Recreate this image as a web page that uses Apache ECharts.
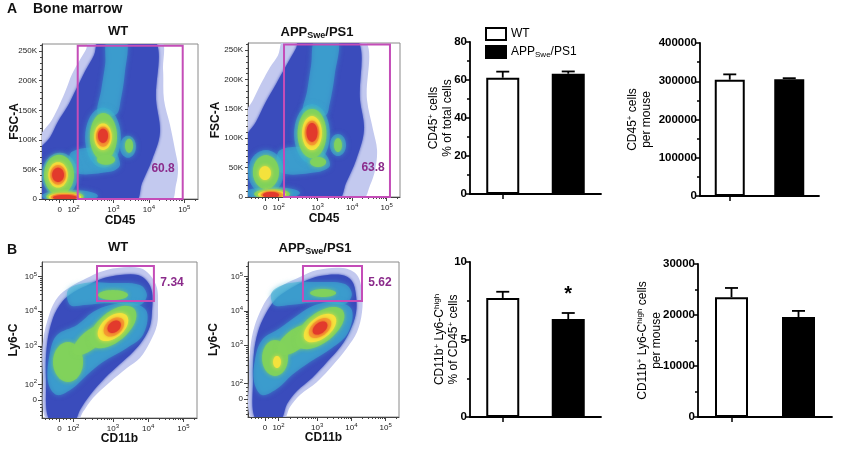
<!DOCTYPE html>
<html><head><meta charset="utf-8">
<script src="https://cdn.jsdelivr.net/npm/echarts@6/dist/echarts.min.js"></script>
<style>html,body{margin:0;padding:0;background:#fff}#c{width:843px;height:455px}</style>
</head><body><div id="c"></div>
<script>
// ---------------- DATA ----------------
const groups = ['WT', 'APPSwe/PS1'];
// bar charts (mean, SEM)
const cd45Pct = [61.2, 63.3];
const cd45PctErr = [3.2, 1.2];
const cd45Count = [304000, 305500];
const cd45CountErr = [14000, 2500];
const ly6cPct = [7.68, 6.32];
const ly6cPctErr = [0.4, 0.39];
const ly6cCount = [23500, 19600];
const ly6cCountErr = [1800, 1200];
const ly6cPctSig = ['', '*'];

// flow-plot axes (biexponential display scale 0..100)
const biexLabels = ['0', '10^2', '10^3', '10^4', '10^5'];
const biexPosX = [11.3, 20.2, 45.8, 68.5, 91.2];
const biexPosY = [11.6, 21.6, 46.3, 68.5, 90.7];
const fscTicks = [0, 50000, 100000, 150000, 200000, 250000];
const fscTickLabels = ['0', '50K', '100K', '150K', '200K', '250K'];

// gates [xMin, yMin, xMax, yMax] and gate percentages
const gateWtA = [22.9, 0, 90.2, 259000];
const gateAppA = [23.7, 0, 93.4, 259500];
const gateWtB = [35.5, 75.0, 72.2, 97.4];
const gateAppB = [36.4, 74.8, 75.5, 97.4];
const pctWtA = '60.8', pctAppA = '63.8', pctWtB = '7.34', pctAppB = '5.62';

// density outlines (x in display units, y in FSC-A or display units)
const wtA_envelope = [[-2,-4000],[-2,100000],[6.4,134000],[11.5,161000],[15.4,185000],[19.2,211000],[24.4,236000],[28.2,253000],[30.8,270000],[75.6,270000],[77.6,219000],[78.2,168000],[82.0,126000],[85.3,83000],[87.2,53000],[85.9,24000],[82.0,-4000]];
const wtA_body = [[-2,-4000],[-2,80000],[5.1,104000],[10.3,131000],[16.7,158000],[21.8,185000],[27.6,216000],[33.3,243000],[37.2,270000],[71.8,270000],[73.1,168000],[75.6,112000],[70.5,66000],[64.1,27000],[59.6,-4000]];
const wtA_teal = [
  [[42.0,270000],[54.0,270000],[53.0,211000],[50.5,168000],[47.5,143000],[36.0,143000],[38.0,185000],[40.5,228000]],
  [[19.2,79900],[44.9,83300],[50.0,57800],[43.6,45900],[19.2,45900]]
];
// blobs: [cx, cy, rx, ry, rotationDeg, densityLevel]
const wtA_blobs = [
  [39.1,103700,11.5,51000,0,2],[11.5,40800,11.5,37400,0,2],[17.9,5100,17.9,10200,0,2],[55.1,88400,5.1,18700,0,2],
  [39.4,105400,8.7,40000,0,3],[10.9,40800,9.6,34000,0,3],[41.0,66300,5.8,8500,0,3],[55.8,90100,2.6,11900,0,3],[14.7,4000,12,9000,0,3],
  [39.1,105400,5.6,22500,0,4],[10.3,40800,6.2,21500,0,4],[14.7,3400,10.5,6800,0,4],
  [39.1,105400,4.4,17000,0,5],[10.3,40800,5.0,16500,0,5],[14.7,3000,9,5500,0,5],
  [39.1,107000,3.2,12000,0,6],[10.3,40800,3.8,12000,0,6],[14.7,2500,7.7,4300,0,6]
];

const appA_envelope = [[-2,-4000],[-2,139000],[3.3,165000],[9.2,196000],[14.5,221000],[19.7,241000],[24.3,270000],[75.7,270000],[78.3,165000],[82.3,114000],[84.9,80000],[83.6,46000],[80.3,20000],[75.0,-4000]];
const appA_body = [[-2,-4000],[-2,97000],[5.3,128000],[11.8,162000],[18.4,192000],[25.0,223000],[31.6,253000],[34.2,270000],[71.1,270000],[73.7,165000],[76.3,114000],[71.1,63000],[64.5,24000],[59.2,-4000]];
const appA_teal = [
  [[44.5,270000],[59.0,270000],[57.0,207000],[53.5,156000],[51.0,139000],[36.5,139000],[39.0,182000],[41.5,224000]],
  [[21.1,79900],[47.4,79900],[54.0,54400],[46.1,42500],[21.1,42500]]
];
const appA_blobs = [
  [42.1,107100,11.8,51000,0,2],[11.8,42500,11.8,37400,0,2],[15.8,6800,18.4,10200,0,2],[59.2,88400,5.3,18700,0,2],
  [42.1,108000,9.5,42000,0,3],[11.8,42500,8.6,28900,0,3],[46.1,59500,5.3,8500,0,3],[59.2,88400,2.6,11900,0,3],[15.8,5100,11.8,8500,0,3],
  [42.1,108800,6.5,29000,0,4],[11.2,40800,3.9,11900,0,4],[15.8,4300,9.2,6800,0,4],
  [42.1,109000,4.8,21000,0,5],[15.8,3400,7.2,6000,0,5],
  [42.1,110000,3.6,16000,0,6],[15.1,3400,5.3,5100,0,6]
];

const wtB_envelope = [[3.2,-2],[0.6,27.6],[0.6,48.7],[5.2,67.9],[10.3,77.6],[18.1,84.0],[29.0,89.7],[37.4,93.6],[48.4,96.2],[63.2,96.2],[69.7,91.7],[74.2,83.3],[74.8,70.5],[74.2,59.6],[69.7,48.7],[63.2,38.5],[54.8,32.1],[43.9,23.1],[32.9,12.8],[26.4,3.8],[22.6,-2]];
const wtB_body = [[5.2,-2],[2.6,24.4],[3.2,46.8],[7.1,64.1],[12.9,74.4],[20.6,80.8],[31.0,85.9],[40.0,89.7],[50.3,91.7],[61.9,91.7],[67.7,87.8],[71.0,80.8],[71.0,69.2],[69.7,59.0],[65.1,50.0],[58.7,42.3],[50.3,34.6],[40.6,25.6],[31.0,14.7],[24.5,5.1],[20.6,-2]];
const wtB_teal = [
  [[16.8,82.0],[27.7,86.5],[43.9,86.5],[63.2,85.3],[67.7,78.8],[63.2,72.4],[43.9,73.7],[27.7,72.4],[18.1,72.4]],
  [[5.2,42.3],[9.7,53.2],[22.6,59.6],[32.9,67.9],[43.9,72.4],[58.7,73.7],[67.7,67.9],[65.1,53.2],[54.8,44.9],[39.3,35.9],[29.0,27.6],[20.0,19.2],[9.7,14.7],[3.9,23.1]]
];
const wtB_blobs = [
  [45.8,78.8,9.7,3.2,0,3],[16.8,35.9,9.7,12.8,0,3],[31.0,50.0,13.5,5.8,40,3],[45.8,58.3,18,9.5,40,3],
  [45.8,58.3,11.5,6.8,40,4],[46.4,58.3,7.5,5.0,40,5],[46.6,58.5,4.8,3.4,40,6]
];

const appB_envelope = [[2.6,-2],[0.7,27.1],[1.3,41.9],[3.3,54.8],[7.9,67.7],[14.6,78.7],[23.2,85.1],[34.4,90.3],[45.7,94.8],[62.9,96.1],[72.2,91.6],[75.5,80.6],[75.5,67.7],[72.2,54.8],[65.5,44.5],[56.3,33.5],[45.7,22.6],[34.4,14.2],[27.8,6.5],[23.2,-2]];
const appB_body = [[5.3,-2],[3.3,25.2],[4.0,41.9],[6.6,54.8],[11.3,65.8],[17.9,75.5],[26.5,81.9],[36.4,87.1],[47.7,90.9],[62.2,91.6],[68.8,87.7],[71.5,78.7],[71.5,67.1],[67.5,55.5],[61.6,45.8],[52.3,35.5],[42.4,25.2],[32.4,16.8],[25.8,8.4],[21.2,-2]];
const appB_teal = [
  [[15.9,80.6],[27.8,86.4],[47.7,87.1],[64.2,85.8],[68.8,79.3],[64.2,72.9],[47.7,74.2],[27.8,72.2],[17.2,72.2]],
  [[4.6,36.8],[9.3,49.7],[21.2,57.4],[33.1,65.8],[44.4,72.2],[59.6,74.2],[68.8,69.0],[66.2,54.2],[55.6,44.5],[41.0,35.5],[29.1,27.1],[19.9,18.7],[9.3,14.2],[4.0,22.6]]
];
const appB_blobs = [
  [49.7,80.0,8.6,2.6,0,3],[17.9,38.1,8.6,11.6,0,3],[31.1,49.7,14,6.5,38,3],[47.7,57.4,19,9.5,38,3],
  [19.2,35.5,2.6,3.9,0,4],[47.7,57.4,12.5,6.8,38,4],[47.7,57.4,8.5,5.0,38,5],[47.7,57.4,5.5,3.4,38,6]
];

// ---------------- LAYOUT / STYLE ----------------
const FONT = '"Liberation Sans", Arial, Helvetica, sans-serif';
const COLORS = ['#c3c9ef', '#3a4cbc', '#3cb0d2', '#82d35a', '#f4e23c', '#f49a30', '#e23a2c'];
const OPAC = [1, 1, 0.55, 0.9, 1, 1, 1];
const BLUR = [0, 3, 5, 4, 4, 3, 3];
const GATE_COLOR = '#c44db8', PCT_COLOR = '#8b2b8b';
const flowGrids = [
  {left:42, top:44, width:156, height:155},
  {left:248, top:43, width:152, height:154},
  {left:42, top:262, width:155, height:156},
  {left:248, top:262, width:151, height:155}
];
const barGrids = [
  {left:470, top:42, width:131, height:152},
  {left:700, top:43, width:119, height:153},
  {left:470, top:262, width:131, height:155},
  {left:698, top:264, width:134, height:153}
];
const pctAnchors = [[77.6, 51000], [82.3, 49300], [83.9, 86.5], [87.4, 86.4]];

const tickRich = {
  n: {fontFamily: FONT, fontSize: 8, color: '#222', lineHeight: 11},
  p: {fontFamily: FONT, fontSize: 6, color: '#222', lineHeight: 6, verticalAlign: 'top'}
};
function richExp(s) {
  const m = s.split('^');
  return m.length === 2 ? '{n|' + m[0] + '}{p|' + m[1] + '}' : '{n|' + s + '}';
}
function closestIdx(arr, v) {
  let b = 0; arr.forEach((p, i) => { if (Math.abs(p - v) < Math.abs(arr[b] - v)) b = i; }); return b;
}
function biexMinor(pos) {
  const out = [];
  const d0 = pos[1] - pos[0];
  [0.25, 0.5, 0.75].forEach(f => out.push(pos[0] + d0 * f));
  [0.25, 0.5, 0.75, 1].forEach(f => out.push(pos[0] - d0 * f));
  for (let d = 1; d < pos.length - 1; d++)
    for (let k = 2; k <= 9; k++) out.push(pos[d] + (pos[d + 1] - pos[d]) * Math.log10(k));
  const last = pos.length - 1;
  for (let k = 2; k <= 3; k++) out.push(pos[last] + (pos[last] - pos[last - 1]) * Math.log10(k));
  return out.filter(v => v > 0 && v < 100);
}
const fscMinor = [];
for (let v = 10000; v < 262144; v += 10000) if (v % 50000) fscMinor.push(v);

const axisNameStyle = {fontFamily: FONT, fontWeight: 'bold', fontSize: 12, color: '#111'};
const lineGrey = {color: '#444', width: 1};

function flowXAxes(g, name, gap) {
  return [
    {type: 'value', gridIndex: g, position: 'bottom', min: 0, max: 100, name, nameLocation: 'middle', nameGap: gap,
     nameMoveOverlap: false, nameTextStyle: axisNameStyle,
     axisLine: {show: true, onZero: false, lineStyle: lineGrey},
     axisTick: {show: true, customValues: biexPosX, length: 4, lineStyle: lineGrey},
     axisLabel: {customValues: biexPosX, margin: 5, formatter: v => richExp(biexLabels[closestIdx(biexPosX, v)]), rich: tickRich},
     splitLine: {show: false}},
    {type: 'value', gridIndex: g, position: 'bottom', min: 0, max: 100,
     axisLine: {show: false}, axisTick: {show: true, customValues: biexMinor(biexPosX), length: 2, lineStyle: lineGrey},
     axisLabel: {show: false}, splitLine: {show: false}}
  ];
}
function fscYAxes(g, gap) {
  return [
    {type: 'value', gridIndex: g, position: 'left', min: 0, max: 262144, name: 'FSC-A', nameLocation: 'middle', nameGap: gap,
     nameMoveOverlap: false, nameTextStyle: axisNameStyle,
     axisLine: {show: true, onZero: false, lineStyle: lineGrey},
     axisTick: {show: true, customValues: fscTicks, length: 3, lineStyle: lineGrey},
     axisLabel: {customValues: fscTicks, margin: 5, fontFamily: FONT, fontSize: 8, color: '#222',
                 formatter: v => fscTickLabels[closestIdx(fscTicks, v)]},
     splitLine: {show: false}},
    {type: 'value', gridIndex: g, position: 'left', min: 0, max: 262144,
     axisLine: {show: false}, axisTick: {show: true, customValues: fscMinor, length: 2, lineStyle: lineGrey},
     axisLabel: {show: false}, splitLine: {show: false}}
  ];
}
function biexYAxes(g, gap) {
  return [
    {type: 'value', gridIndex: g, position: 'left', min: 0, max: 100, name: 'Ly6-C', nameLocation: 'middle', nameGap: gap,
     nameMoveOverlap: false, nameTextStyle: axisNameStyle,
     axisLine: {show: true, onZero: false, lineStyle: lineGrey},
     axisTick: {show: true, customValues: biexPosY, length: 4, lineStyle: lineGrey},
     axisLabel: {customValues: biexPosY, margin: 5, formatter: v => richExp(biexLabels[closestIdx(biexPosY, v)]), rich: tickRich},
     splitLine: {show: false}},
    {type: 'value', gridIndex: g, position: 'left', min: 0, max: 100,
     axisLine: {show: false}, axisTick: {show: true, customValues: biexMinor(biexPosY), length: 2, lineStyle: lineGrey},
     axisLabel: {show: false}, splitLine: {show: false}}
  ];
}

function polySeries(g, envelope, body, teal) {
  const polys = [{pts: envelope, lv: 0}, {pts: body, lv: 1}].concat(teal.map(t => ({pts: t, lv: 2})));
  return {
    type: 'custom', xAxisIndex: 2 * g, yAxisIndex: 2 * g, clip: true, silent: true,
    data: polys.map(p => [p.pts[0][0], p.pts[0][1]]),
    renderItem(params, api) {
      const p = polys[params.dataIndex];
      const pts = p.pts.map(d => api.coord(d));
      return {type: 'polygon', z2: p.lv, shape: {points: pts, smooth: 0.35},
        style: {fill: COLORS[p.lv], opacity: OPAC[p.lv], shadowBlur: BLUR[p.lv], shadowColor: COLORS[p.lv]}};
    }
  };
}
function blobSeries(g, blobs) {
  return {
    type: 'custom', xAxisIndex: 2 * g, yAxisIndex: 2 * g, clip: true, silent: true,
    data: blobs.map(b => [b[0], b[1]]),
    renderItem(params, api) {
      const b = blobs[params.dataIndex];
      const c = api.coord([b[0], b[1]]);
      const s = api.size([b[2], b[3]]);
      const th = b[4] * Math.PI / 180, lv = b[5];
      const pts = [];
      for (let k = 0; k < 40; k++) {
        const t = k / 40 * 2 * Math.PI;
        const x = s[0] * Math.cos(t), y = s[1] * Math.sin(t);
        pts.push([c[0] + x * Math.cos(th) - y * Math.sin(th), c[1] - (x * Math.sin(th) + y * Math.cos(th))]);
      }
      return {type: 'polygon', z2: lv, shape: {points: pts},
        style: {fill: COLORS[lv], opacity: OPAC[lv], shadowBlur: BLUR[lv], shadowColor: COLORS[lv]}};
    }
  };
}
function gateSeries(g, gate, pct) {
  return {
    type: 'custom', xAxisIndex: 2 * g, yAxisIndex: 2 * g, z: 5, silent: true,
    data: [[gate[0], gate[1]]],
    renderItem(params, api) {
      const a = api.coord([gate[0], gate[1]]), b = api.coord([gate[2], gate[3]]);
      const t = api.coord(pctAnchors[g]);
      return {type: 'group', children: [
        {type: 'rect', shape: {x: Math.min(a[0], b[0]), y: Math.min(a[1], b[1]), width: Math.abs(b[0] - a[0]), height: Math.abs(b[1] - a[1])},
         style: {fill: 'none', stroke: GATE_COLOR, lineWidth: 2}},
        {type: 'text', x: t[0], y: t[1], style: {text: pct, fill: PCT_COLOR, font: 'bold 12px ' + FONT,
          align: 'center', verticalAlign: 'middle', textAlign: 'center', textVerticalAlign: 'middle'}}
      ]};
    }
  };
}

// bar charts
const nameRich = {
  a: {fontFamily: FONT, fontSize: 12, color: '#000', lineHeight: 14},
  s: {fontFamily: FONT, fontSize: 8, color: '#000', lineHeight: 8, verticalAlign: 'top'}
};
function barY(k, max, interval, name, gap) {
  return {type: 'value', gridIndex: 4 + k, min: 0, max, interval, name, nameLocation: 'middle', nameGap: gap,
    nameMoveOverlap: false,
    nameTextStyle: {fontFamily: FONT, fontSize: 12, color: '#000', rich: nameRich},
    axisLine: {show: true, lineStyle: {color: '#000', width: 1.8}},
    axisTick: {show: true, length: 4, lineStyle: {color: '#000', width: 1.5}},
    minorTick: {show: true, splitNumber: 2, length: 3, lineStyle: {color: '#000', width: 1.5}},
    splitLine: {show: false}, minorSplitLine: {show: false},
    axisLabel: {fontFamily: FONT, fontWeight: 'bold', fontSize: 11.5, color: '#000', margin: 3, formatter: v => String(v)}};
}
function barX(k) {
  return {type: 'category', gridIndex: 4 + k, data: groups,
    axisLine: {show: true, lineStyle: {color: '#000', width: 1.8}},
    axisTick: {show: true, alignWithLabel: true, length: 5, lineStyle: {color: '#000', width: 1.5}},
    axisLabel: {show: false}, splitLine: {show: false}};
}
function barSeries(k, means, errs, sig, bw) {
  return [
    {type: 'bar', name: groups[0], xAxisIndex: 8 + k, yAxisIndex: 8 + k, data: [means[0], '-'], barWidth: bw, barGap: '-100%',
     itemStyle: {color: '#fff', borderColor: '#000', borderWidth: 2}, silent: true},
    {type: 'bar', name: groups[1], xAxisIndex: 8 + k, yAxisIndex: 8 + k, data: ['-', means[1]], barWidth: bw, barGap: '-100%',
     itemStyle: {color: '#000', borderColor: '#000', borderWidth: 2}, silent: true},
    {type: 'custom', xAxisIndex: 8 + k, yAxisIndex: 8 + k, z: 4, silent: true,
     data: means.map((m, i) => [i, m + errs[i]]),
     renderItem(params, api) {
       const i = params.dataIndex;
       const base = api.coord([i, means[i]]), top = api.coord([i, means[i] + errs[i]]);
       const ch = [
         {type: 'line', shape: {x1: base[0], y1: base[1], x2: top[0], y2: top[1]}, style: {stroke: '#000', lineWidth: 1.8}},
         {type: 'line', shape: {x1: top[0] - 6.5, y1: top[1], x2: top[0] + 6.5, y2: top[1]}, style: {stroke: '#000', lineWidth: 1.8}}
       ];
       if (sig && sig[i]) ch.push({type: 'text', x: top[0], y: top[1] - 9,
         style: {text: sig[i], font: 'bold 20px ' + FONT, fill: '#000', align: 'center', verticalAlign: 'bottom', textAlign: 'center', textVerticalAlign: 'bottom'}});
       return {type: 'group', children: ch};
     }}
  ];
}

const appTitle = '{a|APP}{s|Swe}{a|/PS1}';
const titleRich = {
  a: {fontFamily: FONT, fontWeight: 'bold', fontSize: 13, color: '#111', lineHeight: 16},
  s: {fontFamily: FONT, fontWeight: 'bold', fontSize: 9, color: '#111', lineHeight: 9, verticalAlign: 'bottom'}
};
function txt(x, y, text, size, align, rich) {
  return {type: 'text', x, y, style: {text, fill: '#111', font: 'bold ' + size + 'px ' + FONT, rich,
    align: align, verticalAlign: 'middle', textAlign: align, textVerticalAlign: 'middle'}};
}

const option = {
  backgroundColor: '#fff',
  animation: false,
  textStyle: {fontFamily: FONT},
  grid: flowGrids.map(g => Object.assign({show: true, borderColor: '#8a8a8a', borderWidth: 1, backgroundColor: 'transparent'}, g))
        .concat(barGrids.map(g => Object.assign({}, g))),
  xAxis: [].concat(flowXAxes(0, 'CD45', 16), flowXAxes(1, 'CD45', 16), flowXAxes(2, 'CD11b', 15), flowXAxes(3, 'CD11b', 15),
                   [barX(0), barX(1), barX(2), barX(3)]),
  yAxis: [].concat(fscYAxes(0, 21), fscYAxes(1, 26), biexYAxes(2, 22), biexYAxes(3, 28), [
    barY(0, 80, 20, '{a|CD45}{s|+}{a| cells}\n{a|% of total cells}', 15),
    barY(1, 400000, 100000, '{a|CD45}{s|+}{a| cells}\n{a|per mouse}', 46),
    barY(2, 10, 5, '{a|CD11b}{s|+}{a| Ly6-C}{s|high}\n{a|% of CD45}{s|+}{a| cells}', 9),
    barY(3, 30000, 10000, '{a|CD11b}{s|+}{a| Ly6-C}{s|high}{a| cells}\n{a|per mouse}', 34)
  ]),
  legend: {data: groups, left: 480, top: 22, orient: 'vertical', itemWidth: 20, itemHeight: 12, itemGap: 4, icon: 'rect',
    selectedMode: false,
    formatter: n => n === 'WT' ? '{n|WT}' : '{n|APP}{s|Swe}{n|/PS1}',
    textStyle: {fontFamily: FONT, fontSize: 12, color: '#000', rich: {
      n: {fontFamily: FONT, fontSize: 12, color: '#000', lineHeight: 14},
      s: {fontFamily: FONT, fontSize: 8, color: '#000', lineHeight: 8, verticalAlign: 'bottom'}}}},
  graphic: [
    txt(7, 9, 'A', 14, 'left'),
    txt(33, 9, 'Bone marrow', 14, 'left'),
    txt(118, 31, 'WT', 13, 'center'),
    txt(317, 32, appTitle, 13, 'center', titleRich),
    txt(7, 250, 'B', 14, 'left'),
    txt(118, 247, 'WT', 13, 'center'),
    txt(315, 248, appTitle, 13, 'center', titleRich)
  ],
  series: [].concat(
    [polySeries(0, wtA_envelope, wtA_body, wtA_teal), blobSeries(0, wtA_blobs), gateSeries(0, gateWtA, pctWtA)],
    [polySeries(1, appA_envelope, appA_body, appA_teal), blobSeries(1, appA_blobs), gateSeries(1, gateAppA, pctAppA)],
    [polySeries(2, wtB_envelope, wtB_body, wtB_teal), blobSeries(2, wtB_blobs), gateSeries(2, gateWtB, pctWtB)],
    [polySeries(3, appB_envelope, appB_body, appB_teal), blobSeries(3, appB_blobs), gateSeries(3, gateAppB, pctAppB)],
    barSeries(0, cd45Pct, cd45PctErr, null, 33),
    barSeries(1, cd45Count, cd45CountErr, null, 30),
    barSeries(2, ly6cPct, ly6cPctErr, ly6cPctSig, 33),
    barSeries(3, ly6cCount, ly6cCountErr, null, 33)
  )
};
const chart = echarts.init(document.getElementById('c'), null, {renderer: 'canvas'});
chart.setOption(option);
</script></body></html>
